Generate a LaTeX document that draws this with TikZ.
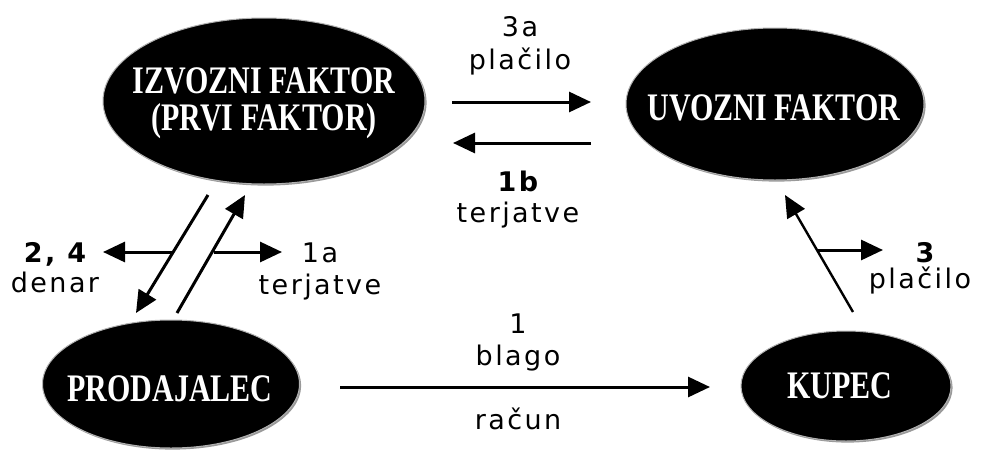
\documentclass[tikz,border=0pt]{standalone}
\usepackage{fontspec}
\setmainfont{Liberation Serif}
\newfontfamily\lblfamily[LetterSpace=9]{DejaVu Sans}
\usetikzlibrary{shapes.geometric,arrows.meta,shadows}
\newcommand\vstr[1]{\scalebox{1}[1.3]{#1}}
\tikzset{
  party/.style={ellipse, fill=black, draw=black!30, line width=1pt, inner sep=0pt,
    drop shadow={shadow xshift=1.6pt, shadow yshift=-1.6pt, fill=black!40, opacity=1}},
  partytext/.style={inner sep=0pt, text=white, align=center,
    font=\fontsize{30}{25.5}\selectfont\bfseries},
  lbl/.style={inner sep=0pt, anchor=base, font=\lblfamily\fontsize{27}{30}\selectfont},
  lblb/.style={lbl, font=\lblfamily\fontsize{27}{30}\selectfont\bfseries},
  flow/.style={line width=3pt, -{Triangle[length=22pt,width=20pt]}},
  thinflow/.style={line width=2.4pt, -{Triangle[length=22pt,width=20pt]}}
}
\begin{document}
\begin{tikzpicture}[x=1pt,y=-1pt]
\useasboundingbox (0,0) rectangle (982,450);
% parties
\node[party, minimum width=322pt, minimum height=166pt] (izv) at (264,101) {};
\node[partytext] (izvt) at (264,104)
  {\vstr{\begin{tabular}{@{}c@{}}IZVOZNI FAKTOR\\(PRVI FAKTOR)\end{tabular}}};
\node[party, minimum width=298pt, minimum height=152pt] (uvo) at (775,104) {};
\node[partytext] (uvot) at (774,108) {\vstr{UVOZNI FAKTOR}};
\node[party, minimum width=257pt, minimum height=128pt] (prod) at (171,384) {};
\node[partytext] (prodt) at (170,389) {\vstr{PRODAJALEC}};
\node[party, minimum width=210pt, minimum height=110pt] (kup) at (846,386) {};
\node[partytext] (kupt) at (840,386) {\vstr{KUPEC}};
% coordinates
\coordinate (a3s) at (452,102); \coordinate (a3e) at (591,102);
\coordinate (b1s) at (591,143); \coordinate (b1e) at (453,143);
\coordinate (dns) at (208,195); \coordinate (dne) at (136,313);
\coordinate (tjs) at (177,313); \coordinate (tje) at (245,195);
\coordinate (dbr) at (172,252); \coordinate (dbe) at (103,252);
\coordinate (tbr) at (214,252); \coordinate (tbe) at (282,252);
\coordinate (bls) at (340,387); \coordinate (ble) at (710,387);
\coordinate (kus) at (853,312); \coordinate (kue) at (785,195);
\coordinate (kbr) at (818,250); \coordinate (kbe) at (883,250);
% connectors
\draw[flow] (a3s) -- (a3e);
\draw[flow] (b1s) -- (b1e);
\draw[flow] (dns) -- (dne);
\draw[flow] (tjs) -- (tje);
\draw[flow] (dbr) -- (dbe);
\draw[flow] (tbr) -- (tbe);
\draw[flow] (bls) -- (ble);
\draw[thinflow] (kus) -- (kue);
\draw[flow] (kbr) -- (kbe);
% labels
\node[lbl] (l3a) at (520,36) {3a};
\node[lbl] (l3ab) at (520,69) {plačilo};
\node[lblb] (l1b) at (518,191) {1b};
\node[lbl] (l1bb) at (518,222) {terjatve};
\node[lblb] (l24) at (55,262) {2, 4};
\node[lbl] (l24b) at (55,292) {denar};
\node[lbl] (l1a) at (320,262) {1a};
\node[lbl] (l1ab) at (320,294) {terjatve};
\node[lblb] (l3) at (925,262) {3};
\node[lbl] (l3b) at (920,288) {plačilo};
\node[lbl] (l1) at (518,333) {1};
\node[lbl] (l1b2) at (518,365) {blago};
\node[lbl] (l1c) at (518,429) {račun};
\end{tikzpicture}
\end{document}
